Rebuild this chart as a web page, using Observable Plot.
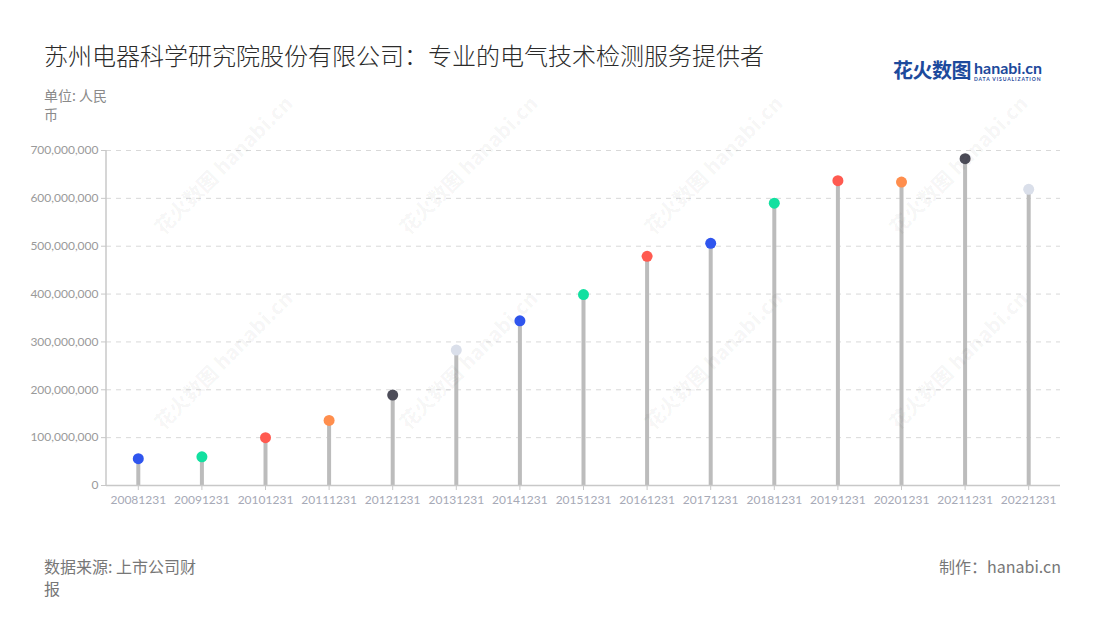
<!DOCTYPE html>
<html>
<head>
<meta charset="utf-8">
<script src="https://cdn.jsdelivr.net/npm/d3@7"></script>
<script src="https://cdn.jsdelivr.net/npm/@observablehq/plot@0.6"></script>
<style>
  html, body { margin: 0; padding: 0; background: #fff; }
  body { width: 1100px; height: 620px; position: relative; overflow: hidden;
         font-family: "Noto Sans CJK SC", "Noto Sans", sans-serif; }
  .abs { position: absolute; }
  #title { left: 44px; top: 37px; font-size: 24px; font-weight: 300; color: #2b2b2b; white-space: nowrap; }
  #unit { left: 44px; top: 86px; font-size: 14px; color: #8a8a8a; width: 68px; line-height: 19px; }
  #logo { left: 893px; top: 58px; white-space: nowrap; }
  #logo .cn { font-size: 20px; font-weight: 700; color: #1d4a9c; letter-spacing: -0.5px; vertical-align: top; line-height: 24px; }
  #logo .en { display: inline-block; vertical-align: top; margin-left: 3px; padding-top: 2px; }
  #logo .en .a { font-size: 16px; font-weight: 700; color: #1d4a9c; font-family: "Lato", sans-serif; line-height: 16px; }
  #logo .en .b { font-size: 5px; font-weight: 700; color: #1d4a9c; letter-spacing: 0.9px; font-family: "Lato", sans-serif; line-height: 6px; }
  #source { left: 44px; top: 555px; font-size: 16px; color: #777; width: 156px; line-height: 22px; }
  #maker { right: 39px; top: 555px; font-size: 16px; color: #777; line-height: 22px; }
  #chart { left: 0; top: 130px; }
  .wm { position: absolute; color: rgba(0,0,0,0.035); font-weight: 900; font-size: 20px; transform: rotate(-45deg); white-space: nowrap; pointer-events: none; }
</style>
</head>
<body>
<div id="title" class="abs">苏州电器科学研究院股份有限公司：专业的电气技术检测服务提供者</div>
<div id="unit" class="abs">单位: 人民币</div>
<div id="logo" class="abs"><span class="cn">花火数图</span><span class="en"><div class="a">hanabi.cn</div><div class="b">DATA VISUALIZATION</div></span></div>
<div id="chart" class="abs"></div>
<div id="source" class="abs">数据来源: 上市公司财报</div>
<div id="maker" class="abs">制作：hanabi.cn</div>
<script>
const dates = ["20081231","20091231","20101231","20111231","20121231","20131231","20141231","20151231","20161231","20171231","20181231","20191231","20201231","20211231","20221231"];
const values = [56e6, 60e6, 100e6, 136e6, 189e6, 283e6, 344e6, 399e6, 479e6, 506e6, 590e6, 637e6, 634e6, 683e6, 619e6];
const dotColors = ["#2f55ee", "#12e0a0", "#ff5a50", "#ff8e4d", "#4c4c58", "#dadfea", "#2f55ee", "#12e0a0", "#ff5a50", "#2f55ee", "#12e0a0", "#ff5a50", "#ff8e4d", "#4c4c58", "#dadfea"];
const yTicks = [0, 100e6, 200e6, 300e6, 400e6, 500e6, 600e6, 700e6];

const data = dates.map((d, i) => ({date: d, value: values[i], color: dotColors[i]}));

const plot = Plot.plot({
  width: 1100,
  height: 385,
  marginTop: 20,
  marginBottom: 30,
  marginLeft: 106,
  marginRight: 40,
  style: {fontFamily: "Lato, 'Noto Sans', sans-serif", fontSize: "12px", background: "transparent"},
  x: {type: "band", domain: dates, padding: 0, round: false, label: null},
  y: {domain: [0, 700e6], label: null},
  marks: [
    Plot.gridY(yTicks, {stroke: "#d9d9d9", strokeOpacity: 1, strokeDasharray: "5,5"}),
    Plot.axisY(yTicks, {tickFormat: d3.format(","), tickSize: 5, tickPadding: 3, color: "#9a9a9a", stroke: "#c8c8c8", fontSize: 12, label: null}),
    Plot.axisX({tickSize: 5, tickPadding: 5, color: "#a6a9b6", stroke: "#c8c8c8", fontSize: 12, label: null}),
    Plot.ruleX(data, {x: "date", y1: 0, y2: "value", stroke: "#bcbcbc", strokeWidth: 4}),
    Plot.ruleY([0], {stroke: "#c8c8c8", strokeWidth: 1.5}),
    Plot.dot(data, {x: "date", y: "value", r: 5.5, fill: "color", stroke: null})
  ]
});
document.getElementById("chart").appendChild(plot);

// left axis domain line using the plot's own scales
const xs = plot.scale("x"), ys = plot.scale("y");
const x0 = Math.min(...xs.range);
d3.select(plot).append("line")
  .attr("x1", x0).attr("x2", x0)
  .attr("y1", ys.apply(700e6)).attr("y2", ys.apply(0))
  .attr("stroke", "#c8c8c8").attr("stroke-width", 1.5);

// faint watermarks
const wmPos = [[130,150],[375,150],[620,150],[865,150],[130,345],[375,345],[620,345],[865,345]];
for (const [l, t] of wmPos) {
  const w = document.createElement("div");
  w.className = "wm";
  w.style.left = l + "px";
  w.style.top = t + "px";
  w.textContent = "花火数图 hanabi.cn";
  document.body.appendChild(w);
}
</script>
</body>
</html>
